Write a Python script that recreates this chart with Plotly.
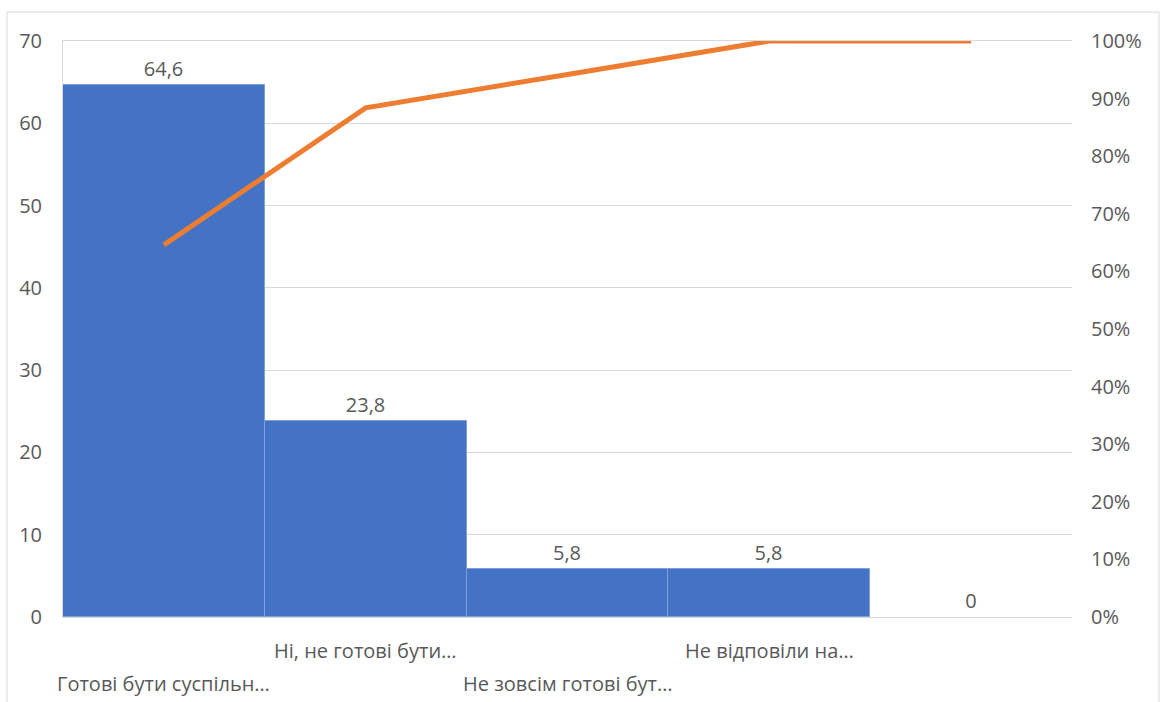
import numpy as np
import plotly.graph_objects as go

# Survey answers (truncated labels as displayed) and shares, %
categories = ["Готові бути суспільн…", "Ні, не готові бути…", "Не зовсім готові бут…", "Не відповіли на…", ""]
values = [64.6, 23.8, 5.8, 5.8, 0]
left_ticks = [0, 10, 20, 30, 40, 50, 60, 70]
right_ticks = [0, 10, 20, 30, 40, 50, 60, 70, 80, 90, 100]

BAR = "#4472C4"
LINE = "#ED7D31"
TXT = "#595959"
GRID = "#D9D9D9"
FONT = "Open Sans"
FS = 20

x = list(range(len(categories)))
cum_pct = np.cumsum(values) / np.sum(values) * 100
labels = [("%g" % v).replace(".", ",") for v in values]

fig = go.Figure()
fig.add_trace(go.Bar(
    x=x, y=values, width=1,
    marker=dict(color=BAR, line=dict(color="#7F9FD8",
                                     width=[1 if v > 0 else 0 for v in values])),
    text=labels, textposition="outside", cliponaxis=False,
    textfont=dict(family=FONT, size=FS, color=TXT),
    showlegend=False,
))
fig.add_trace(go.Scatter(
    x=x, y=cum_pct, yaxis="y2", mode="lines",
    line=dict(color=LINE, width=5),
    showlegend=False,
))

# staggered category labels under the axis
for i, name in enumerate(categories):
    fig.add_annotation(
        x=i, xref="x", y=0, yref="paper", yanchor="middle",
        yshift=-33 if i % 2 else -66, text=name, showarrow=False,
        font=dict(family=FONT, size=FS, color=TXT),
    )

# outer chart frame
fig.add_shape(type="rect", xref="paper", yref="paper",
              x0=-0.0555, x1=1.0862, y0=-0.16, y1=1.0503,
              line=dict(color=GRID, width=1), layer="below")

fig.update_layout(
    width=1163, height=702,
    margin=dict(l=63, r=91, t=41, b=85),
    paper_bgcolor="white", plot_bgcolor="white",
    bargap=0,
    xaxis=dict(range=[-0.5, len(categories) - 0.5], showticklabels=False,
               showgrid=False, showline=True, linecolor=GRID, mirror=True,
               zeroline=False, ticks=""),
    yaxis=dict(range=[0, 70], tickvals=left_ticks, showgrid=True, gridcolor=GRID,
               gridwidth=1, zeroline=False, showline=True, linecolor=GRID,
               ticks="", ticklabelstandoff=16,
               tickfont=dict(family=FONT, size=FS, color=TXT)),
    yaxis2=dict(range=[0, 100], overlaying="y", side="right", tickvals=right_ticks,
                ticktext=[f"{v}%" for v in right_ticks],
                showgrid=False, zeroline=False, showline=False,
                ticks="", ticklabelstandoff=18,
                tickfont=dict(family=FONT, size=FS, color=TXT)),
)

fig.write_html("out.html")
